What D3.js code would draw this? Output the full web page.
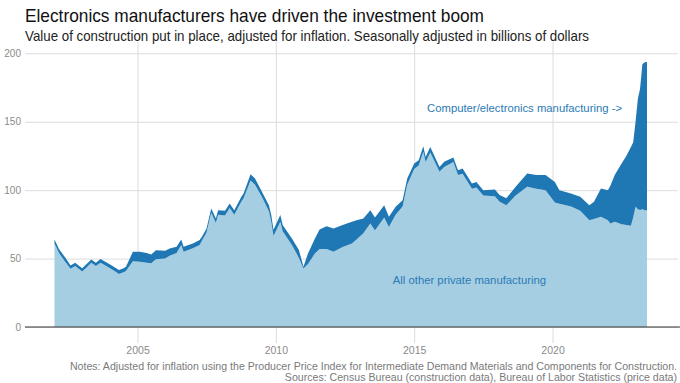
<!DOCTYPE html>
<html>
<head>
<meta charset="utf-8">
<script src="https://cdn.jsdelivr.net/npm/d3@7"></script>
<style>
  body { margin: 0; background: #fff; }
  svg { display: block; font-family: "Liberation Sans", Arial, sans-serif; }
</style>
</head>
<body>
<svg id="chart" width="680" height="383"></svg>
<script>
const months = [
  "2002-01","2002-03","2002-06","2002-08","2002-10","2003-01","2003-03","2003-05",
  "2003-07","2003-09","2003-12","2004-02","2004-05","2004-07","2004-08","2004-11",
  "2005-02","2005-05","2005-07","2005-09","2006-01","2006-03","2006-06","2006-08",
  "2006-09","2007-01","2007-04","2007-05","2007-07","2007-09","2007-11","2007-12",
  "2008-03","2008-05","2008-07","2008-10","2008-11","2009-02","2009-04","2009-07",
  "2009-10","2009-11","2009-12","2010-03","2010-04","2010-08","2010-11","2011-01",
  "2011-03","2011-06","2011-08","2011-11","2012-02","2012-06","2012-10","2012-12",
  "2013-03","2013-06","2013-08","2013-12","2014-02","2014-05","2014-08","2014-10",
  "2015-01","2015-03","2015-05","2015-06","2015-08","2015-12","2016-02","2016-06",
  "2016-08","2016-10","2017-02","2017-04","2017-07","2017-12","2018-02","2018-05",
  "2018-09","2019-02","2019-06","2019-10","2020-02","2020-04","2020-09","2021-01",
  "2021-05","2021-07","2021-10","2022-01","2022-02","2022-04","2022-07","2022-09",
  "2022-11","2022-12","2023-01","2023-02","2023-03","2023-04","2023-05","2023-06"
];

// all private manufacturing (top of the dark band)
const totalMfg = [
  64, 57, 50, 45, 47, 43, 46, 49.4,
  47, 49.6, 46.7, 44.7, 41.6, 43, 44, 55,
  55, 54, 53, 56, 55.7, 57.4, 58.6, 64,
  58.6, 61, 63.5, 66, 72, 86.6, 79.3, 85.4,
  85, 90.3, 85.4, 95, 97.6, 111.7, 108.5, 98.8,
  89, 81.8, 71, 81.8, 74.5, 64.7, 56.2, 44,
  53.8, 64.7, 71.3, 73.7, 72, 74.5, 76.9, 78,
  79.3, 85.4, 80, 89, 80.5, 87.8, 92.7, 108.5,
  119.5, 121.9, 132, 124.3, 131.6, 117, 120.7, 123.9,
  114.6, 115.8, 104.9, 106, 100, 100.5, 96.4, 94,
  102.4, 112.2, 111, 111, 106, 100, 97.6, 95.1,
  89, 91.5, 101.2, 100, 103, 111, 119.5, 125,
  131.6, 135, 150, 167, 174, 192, 193.5, 193.6
];

// all other private manufacturing (light area)
const otherMfg = [
  61, 54, 47, 42.5, 44.5, 40.5, 43.5, 47,
  44.5, 47, 44, 42, 38.7, 40, 41, 48,
  47.7, 47, 46.5, 49.5, 50, 52, 54, 60,
  55, 57.5, 60, 63, 69, 83.5, 76, 82,
  81.5, 87, 82, 91.5, 94, 107, 104, 95,
  84.5, 77, 66.5, 77, 70, 60, 50.5, 42.8,
  46, 53.8, 57, 57, 55, 58.5, 61, 64,
  68.5, 75.7, 70.5, 80, 73, 82, 88, 104,
  115.5, 118, 128, 120.5, 127.5, 113.5, 117, 120.5,
  111, 112, 101, 102, 96, 95.5, 91.5, 89,
  96, 102.4, 101, 100, 91, 90, 88, 85,
  78, 79, 80.5, 78, 75.7, 77, 75, 74.5,
  74, 80, 87.8, 86, 85.5, 86, 85.4, 85.4
];

const yTicks = [0, 50, 100, 150, 200];
const xTicks = [2005, 2010, 2015, 2020];

const parse = d3.timeParse("%Y-%m");
const rows = months.map((m, i) => ({date: parse(m), total: totalMfg[i], other: otherMfg[i]}));

const svg = d3.select("#chart");
const plotLeft = 25, plotRight = 678, plotTop = 53.3, plotBottom = 327;

const x = d3.scaleTime()
  .domain([new Date(2002, 0, 1), new Date(2023, 5, 1)])
  .range([54.5, 647]);

const y = d3.scaleLinear()
  .domain([0, 200])
  .range([plotBottom, plotTop]);

// horizontal grid + labels
const yAxis = svg.append("g")
  .attr("transform", "translate(" + plotLeft + ",0)")
  .call(d3.axisLeft(y).tickValues(yTicks).tickSize(-(plotRight - plotLeft)).tickPadding(4));
yAxis.select(".domain").remove();
yAxis.selectAll("line").attr("stroke", "#dcdcdc");
yAxis.selectAll("text").attr("fill", "#8a8a8a").style("font-size", "10px");

// vertical grid + labels
const xAxis = svg.append("g")
  .attr("transform", "translate(0,343)")
  .call(d3.axisBottom(x)
    .tickValues(xTicks.map(yr => new Date(yr, 0, 1)))
    .tickFormat(d3.timeFormat("%Y"))
    .tickSize(-301).tickPadding(4));
xAxis.select(".domain").remove();
xAxis.selectAll("line").attr("stroke", "#dcdcdc");
xAxis.selectAll("text").attr("fill", "#8a8a8a").style("font-size", "10.5px");

// areas
const otherArea = d3.area()
  .x(d => x(d.date))
  .y0(y(0))
  .y1(d => y(d.other));

const elecArea = d3.area()
  .x(d => x(d.date))
  .y0(d => y(d.other))
  .y1(d => y(d.total));

svg.append("path").datum(rows).attr("d", otherArea).attr("fill", "#a6cee3");
svg.append("path").datum(rows).attr("d", elecArea).attr("fill", "#1f78b4");

// zero line
svg.append("line")
  .attr("x1", plotLeft).attr("x2", 680)
  .attr("y1", y(0)).attr("y2", y(0))
  .attr("stroke", "#333").attr("stroke-width", 1.2);

// series labels
svg.append("text")
  .attr("x", 622).attr("y", 111.5)
  .attr("text-anchor", "end")
  .attr("fill", "#2b7bb5")
  .style("font-size", "11.3px")
  .text("Computer/electronics manufacturing ->");

svg.append("text")
  .attr("x", 546).attr("y", 283.5)
  .attr("text-anchor", "end")
  .attr("fill", "#2b7bb5")
  .style("font-size", "11.3px")
  .text("All other private manufacturing");

// titles
svg.append("text")
  .attr("x", 25).attr("y", 21.5)
  .attr("fill", "#111")
  .attr("textLength", 459).attr("lengthAdjust", "spacingAndGlyphs")
  .style("font-size", "19px")
  .text("Electronics manufacturers have driven the investment boom");

svg.append("text")
  .attr("x", 25).attr("y", 41)
  .attr("fill", "#222")
  .attr("textLength", 564).attr("lengthAdjust", "spacingAndGlyphs")
  .style("font-size", "15px")
  .text("Value of construction put in place, adjusted for inflation. Seasonally adjusted in billions of dollars");

// notes
svg.append("text")
  .attr("x", 677).attr("y", 369.5)
  .attr("text-anchor", "end")
  .attr("fill", "#7a7a7a")
  .style("font-size", "10.6px")
  .text("Notes: Adjusted for inflation using the Producer Price Index for Intermediate Demand Materials and Components for Construction.");

svg.append("text")
  .attr("x", 677).attr("y", 380.5)
  .attr("text-anchor", "end")
  .attr("fill", "#7a7a7a")
  .style("font-size", "10.6px")
  .text("Sources: Census Bureau (construction data), Bureau of Labor Statistics (price data)");
</script>
</body>
</html>
